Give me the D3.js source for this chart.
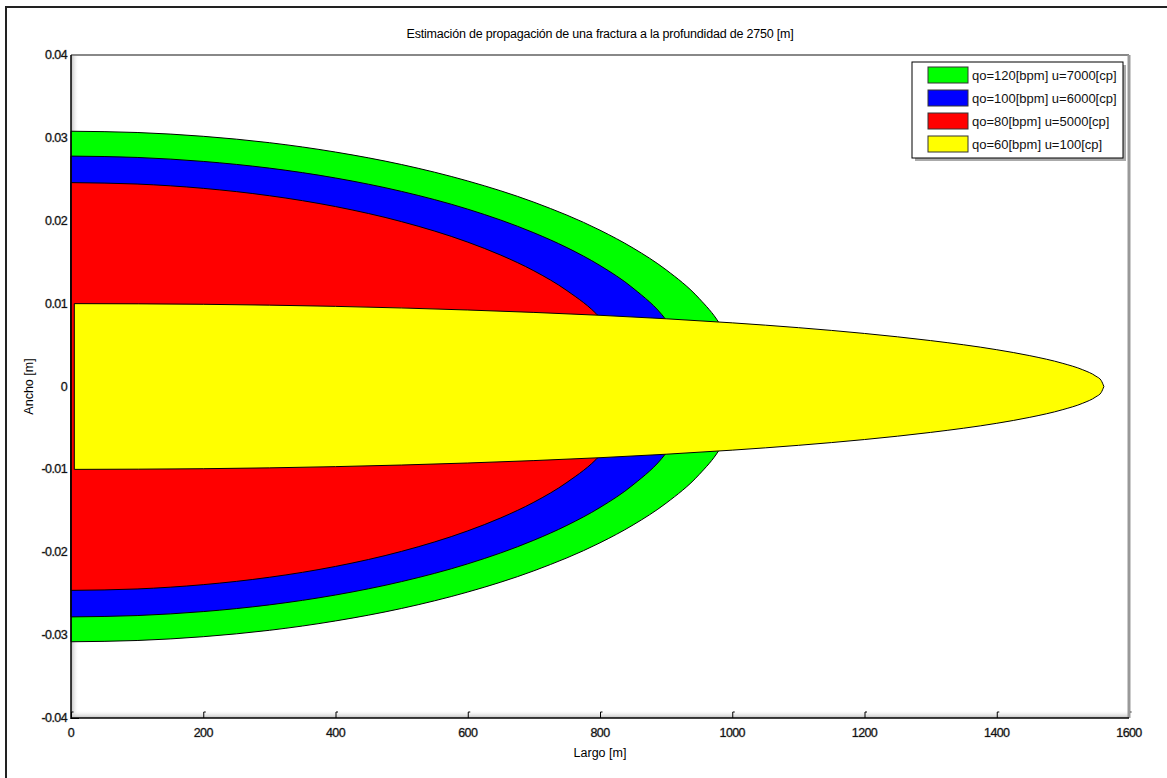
<!DOCTYPE html>
<html><head><meta charset="utf-8">
<script src="https://cdn.jsdelivr.net/npm/d3@7"></script>
<style>body{margin:0;background:#fff}svg{display:block;font-family:"Liberation Sans",Arial,sans-serif}
.tl{paint-order:stroke;stroke:#999;stroke-width:0.6px}</style>
</head><body><svg id="c" width="1167" height="778"></svg>
<script>
// Half-width profiles (top half): x = largo [m], w = ancho [m]
const greenX = [0,100,200,300,400,500,600,700,800,850,900,950,980,1000,1012];
const greenW = [0.0308,0.03065,0.03019,0.02942,0.02829,0.02678,0.0248,0.02224,0.01886,0.01671,0.01408,0.01062,0.00768,0.00473,0];
const blueX = [0,100,200,300,400,500,600,700,750,800,850,900,925,940];
const blueW = [0.0278,0.02764,0.02716,0.02635,0.02516,0.02354,0.0214,0.01855,0.01676,0.0146,0.01187,0.00802,0.00495,0];
const redX = [0,100,200,300,400,500,600,650,700,750,800,830,850];
const redW = [0.0246,0.02443,0.02391,0.02302,0.02171,0.01989,0.01742,0.01585,0.01396,0.01157,0.00831,0.0053,0];
const yellowX = [5,200,400,600,800,1000,1100,1200,1300,1400,1450,1500,1530,1550,1558,1562];
const yellowW = [0.0100,0.00992,0.00967,0.00923,0.00859,0.00768,0.0071,0.0064,0.00554,0.00444,0.00372,0.00279,0.00202,0.00124,0.00072,0];
const seriesNames = ["qo=120[bpm] u=7000[cp]","qo=100[bpm] u=6000[cp]","qo=80[bpm] u=5000[cp]","qo=60[bpm] u=100[cp]"];
const seriesColors = ["#00ff00","#0000ff","#ff0000","#ffff00"];
const xTicks = [0,200,400,600,800,1000,1200,1400,1600];
const yTicks = [0.04,0.03,0.02,0.01,0,-0.01,-0.02,-0.03,-0.04];
const yTickLabels = ["0.04","0.03","0.02","0.01","0","-0.01","-0.02","-0.03","-0.04"];
const title = "Estimación de propagación de una fractura a la profundidad de 2750 [m]";
const xLabel = "Largo [m]", yLabel = "Ancho [m]";

const svg = d3.select("#c");
const L = 71, R = 1129, T = 55, B = 718;
const x = d3.scaleLinear().domain([0,1600]).range([L,R]);
const y = d3.scaleLinear().domain([-0.04,0.04]).range([B,T]);

// figure frame
svg.append("rect").attr("x",6).attr("y",7).attr("width",1200).attr("height",800)
  .attr("fill","none").attr("stroke","#222").attr("stroke-width",2);

// subtle inner shadow of axes box
const defs = svg.append("defs");
const g1 = defs.append("linearGradient").attr("id","shL").attr("x1",0).attr("x2",1).attr("y1",0).attr("y2",0);
g1.append("stop").attr("offset",0).attr("stop-color","#bbb");
g1.append("stop").attr("offset",1).attr("stop-color","#fff").attr("stop-opacity",0);
const g2 = defs.append("linearGradient").attr("id","shB").attr("x1",0).attr("x2",0).attr("y1",1).attr("y2",0);
g2.append("stop").attr("offset",0).attr("stop-color","#bbb");
g2.append("stop").attr("offset",1).attr("stop-color","#fff").attr("stop-opacity",0);
svg.append("rect").attr("x",L).attr("y",T).attr("width",8).attr("height",B-T).attr("fill","url(#shL)");
svg.append("rect").attr("x",L).attr("y",B-8).attr("width",R-L).attr("height",8).attr("fill","url(#shB)");

// ticks (inside, under the fills)
const tk = svg.append("g").attr("stroke","#000").attr("stroke-width",1);
xTicks.forEach(v=>{ tk.append("line").attr("x1",x(v)+0.5).attr("x2",x(v)+0.5).attr("y1",B).attr("y2",B-6);
  tk.append("line").attr("x1",x(v)+0.5).attr("x2",x(v)+2.5).attr("y1",B-6).attr("y2",B-6);});
yTicks.forEach(v=>{ tk.append("line").attr("x1",L).attr("x2",L+8).attr("y1",y(v)+0.5).attr("y2",y(v)+0.5);});

// shapes
function drawShape(xs, ws, color){
  const pts = xs.map((d,i)=>({x:d,w:ws[i]}));
  const area = d3.area().x(d=>x(d.x)).y0(d=>y(-d.w)).y1(d=>y(d.w)).curve(d3.curveMonotoneX);
  svg.append("path").datum(pts).attr("d",area).attr("fill",color).attr("stroke","#000").attr("stroke-width",1);
}
drawShape(greenX, greenW, seriesColors[0]);
drawShape(blueX, blueW, seriesColors[1]);
drawShape(redX, redW, seriesColors[2]);
drawShape(yellowX, yellowW, seriesColors[3]);

// axes box
svg.append("line").attr("x1",L).attr("x2",R).attr("y1",T).attr("y2",T).attr("stroke","#888").attr("stroke-width",2);
svg.append("line").attr("x1",R).attr("x2",R).attr("y1",T).attr("y2",B).attr("stroke","#999").attr("stroke-width",3);
svg.append("line").attr("x1",L).attr("x2",L).attr("y1",T).attr("y2",B+1).attr("stroke","#000").attr("stroke-width",1.5);
svg.append("line").attr("x1",L).attr("x2",R).attr("y1",B).attr("y2",B).attr("stroke","#000").attr("stroke-width",1.5);

// tick labels
svg.append("g").selectAll("text").data(xTicks).join("text").attr("class","tl")
  .attr("x",d=>x(d)).attr("y",B+19).attr("text-anchor","middle").attr("font-size",12.5).attr("fill","#111")
  .attr("letter-spacing","-0.6").text(d=>d);
svg.append("g").selectAll("text").data(yTicks).join("text").attr("class","tl")
  .attr("x",L-4).attr("y",d=>y(d)+4).attr("text-anchor","end").attr("font-size",12.5).attr("fill","#111")
  .attr("letter-spacing","-0.6").text((d,i)=>yTickLabels[i]);

// labels
svg.append("text").attr("x",(L+R)/2).attr("y",38).attr("text-anchor","middle").attr("font-size",12.5).attr("fill","#000").attr("letter-spacing","-0.2").text(title);
svg.append("text").attr("x",(L+R)/2).attr("y",757).attr("text-anchor","middle").attr("font-size",12.5).attr("fill","#000").text(xLabel);
svg.append("text").attr("transform",`translate(33,${(T+B)/2}) rotate(-90)`).attr("text-anchor","middle").attr("font-size",12.5).attr("fill","#000").text(yLabel);

// legend
const lx = 912, ly = 62, lw = 211, lh = 96;
svg.append("rect").attr("x",lx+3).attr("y",ly+3).attr("width",lw).attr("height",lh).attr("fill","#aaa");
svg.append("rect").attr("x",lx).attr("y",ly).attr("width",lw).attr("height",lh).attr("fill","#fff").attr("stroke","#000").attr("stroke-width",1);
seriesNames.forEach((n,i)=>{
  const ry = ly + 5 + i*23;
  svg.append("rect").attr("x",lx+16).attr("y",ry).attr("width",40).attr("height",16).attr("fill",seriesColors[i]).attr("stroke","#333").attr("stroke-width",1);
  svg.append("text").attr("x",lx+60).attr("y",ry+13).attr("font-size",13).attr("fill","#111").text(n);
});
</script></body></html>
